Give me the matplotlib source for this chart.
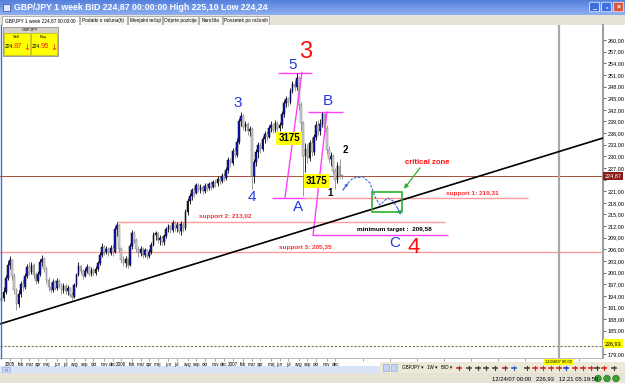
import matplotlib.pyplot as plt
import matplotlib.patches as mpatches
from matplotlib.colors import LinearSegmentedColormap
import numpy as np
import pandas as pd

plt.rcParams['font.family'] = ['Liberation Sans', 'DejaVu Sans']

# weekly GBP/JPY bid candles, first week Mon 6 Dec 2004, last week Mon 24 Dec 2007
week_start = '2004-12-06'
first_open = 192.8
closes = [193.5, 195.0, 198.5, 202.0, 203.2, 199.0, 195.5, 191.8, 194.6, 197.0,
          196.2, 199.2, 201.4, 200.2, 202.0, 199.4, 197.8, 199.6, 202.8, 203.6,
          201.0, 198.2, 196.4, 195.6, 197.6, 196.0, 197.8, 196.8, 195.4, 196.6,
          195.2, 196.0, 194.2, 193.8, 196.8, 199.4, 201.6, 200.4, 199.2, 200.4,
          201.4, 199.6, 200.6, 199.8, 200.8, 202.4, 204.6, 206.6, 205.4, 206.2,
          205.0, 206.4, 205.2, 211.2, 212.2, 206.0, 203.2, 202.4, 203.6, 202.0,
          206.8, 210.2, 208.4, 206.0, 205.0, 206.2, 204.6, 205.8, 204.4, 205.4,
          207.2, 209.6, 210.2, 208.4, 209.0, 207.8, 209.4, 211.2, 212.0, 211.0,
          212.8, 211.6, 212.4, 210.8, 212.6, 211.4, 215.6, 218.4, 219.8, 221.2,
          220.6, 222.6, 221.4, 222.2, 221.0, 222.4, 221.8, 222.8, 222.2, 223.4,
          223.0, 224.2, 223.6, 225.0, 224.4, 226.4, 229.0, 228.2, 231.4, 230.4,
          233.8, 239.0, 240.4, 237.6, 238.4, 236.4, 237.0, 224.8, 228.6, 231.0,
          233.0, 232.0, 234.4, 235.8, 235.0, 237.2, 238.2, 236.8, 238.6, 237.4,
          238.0, 240.8, 243.8, 244.8, 244.0, 246.8, 248.6, 247.8, 250.2, 243.2,
          238.6, 230.2, 231.8, 229.6, 233.4, 231.0, 235.0, 238.2, 236.6, 238.4,
          240.8, 237.4, 231.6, 229.4, 230.2, 226.2, 223.8, 227.6, 225.0, 224.87]
highs = [195.5, 196.2, 199.4, 203.0, 204.2, 203.6, 199.8, 196.0, 195.6, 197.8,
         198.4, 200.0, 202.2, 202.8, 202.8, 202.4, 200.2, 200.4, 203.6, 204.6,
         204.0, 201.6, 198.8, 197.6, 198.4, 198.2, 198.6, 198.4, 197.4, 197.2,
         197.2, 196.8, 196.4, 195.0, 197.4, 200.0, 202.8, 202.0, 201.0, 201.2,
         202.2, 201.8, 201.4, 201.2, 201.6, 203.0, 205.4, 207.6, 207.2, 206.8,
         206.6, 207.2, 207.0, 212.0, 213.1, 212.6, 206.6, 204.2, 204.2, 203.8,
         207.6, 211.0, 210.8, 209.0, 206.8, 206.8, 206.6, 206.4, 206.2, 206.0,
         207.8, 210.4, 210.8, 210.6, 209.6, 209.4, 210.0, 211.8, 212.6, 212.4,
         213.6, 213.4, 213.0, 212.8, 213.2, 213.0, 216.4, 219.2, 220.6, 221.8,
         222.0, 223.2, 223.0, 222.8, 222.6, 223.0, 223.2, 223.4, 223.6, 224.0,
         224.2, 224.8, 225.0, 225.6, 226.0, 227.2, 229.8, 229.6, 232.2, 232.4,
         234.6, 239.8, 241.3, 240.8, 239.2, 238.8, 237.8, 237.6, 229.4, 231.8,
         233.8, 233.6, 235.2, 236.6, 236.4, 238.0, 239.0, 238.6, 239.4, 239.2,
         238.8, 241.6, 244.6, 245.6, 245.4, 247.6, 249.4, 249.6, 251.4, 250.6,
         244.0, 239.2, 233.4, 233.2, 234.2, 234.6, 235.8, 239.0, 239.4, 239.6,
         241.5, 241.2, 238.0, 232.6, 231.0, 230.6, 227.0, 228.6, 229.2, 225.10]
lows = [191.8, 192.6, 194.6, 198.0, 200.8, 198.2, 194.6, 190.3, 191.2, 193.8,
        195.2, 195.8, 198.6, 199.4, 199.6, 198.6, 197.0, 197.2, 199.2, 201.8,
        200.2, 197.4, 195.2, 194.8, 195.0, 195.4, 195.6, 196.0, 194.6, 194.8,
        194.4, 194.2, 193.6, 193.0, 193.4, 196.2, 199.0, 199.6, 198.4, 198.8,
        199.8, 199.0, 199.2, 199.2, 199.4, 200.4, 202.0, 204.0, 204.6, 204.8,
        204.2, 204.6, 204.2, 205.0, 209.4, 205.2, 202.4, 201.6, 201.4, 201.2,
        201.6, 206.0, 207.6, 205.2, 204.0, 204.2, 203.8, 204.0, 203.6, 203.8,
        204.8, 206.8, 208.4, 207.6, 207.2, 207.0, 207.2, 208.8, 210.4, 210.2,
        210.6, 210.8, 210.6, 210.0, 209.8, 210.6, 211.0, 214.8, 217.6, 218.8,
        219.6, 220.2, 220.8, 220.6, 220.4, 220.6, 221.0, 221.2, 221.4, 221.8,
        222.2, 222.4, 222.8, 223.0, 223.6, 223.8, 225.8, 227.2, 227.8, 229.6,
        229.8, 233.2, 237.8, 236.8, 236.4, 235.6, 235.2, 221.5, 223.0, 227.4,
        229.6, 230.8, 231.4, 233.4, 234.0, 234.6, 236.2, 236.0, 236.2, 236.6,
        236.4, 237.4, 240.2, 242.8, 243.0, 243.6, 246.2, 246.8, 247.2, 242.0,
        236.4, 219.7, 226.0, 228.2, 228.8, 230.0, 230.4, 234.2, 235.6, 235.6,
        237.6, 236.2, 230.6, 228.4, 227.6, 225.4, 221.5, 223.0, 224.4, 224.24]

month_names = ['jan', 'feb', 'mar', 'apr', 'maj', 'jun', 'jul', 'avg', 'sep', 'okt', 'nov', 'dec']
price_ticks = np.arange(179, 261, 3)
hidden_ticks = [224, 182]      # covered by the price / crosshair boxes

last_price = 224.87
support1 = 219.31
support2 = 213.02
support3 = 205.35
min_target = 209.58
wave5_top = 251.6
waveB_top = 241.4
cross_price = 181.07
trend_start = 186.75
trend_end = 234.72

W, H = 625, 383
X0, X1 = -4.67, 277.1          # visible week range
Y0, Y1 = 177.97, 263.87        # visible price range

dates = pd.date_range(week_start, periods=len(closes), freq='W-MON')
x = np.arange(len(closes)) - 4   # week index, 0 = 3 Jan 2005
o = np.array([first_open] + closes[:-1])
c = np.array(closes)
h = np.array(highs)
l = np.array(lows)

fig = plt.figure(figsize=(6.25, 3.83), dpi=100, facecolor='white')


def fbox(x0, y0, x1, y1):
    return [x0 / W, 1 - y1 / H, (x1 - x0) / W, (y1 - y0) / H]


bg = fig.add_axes([0, 0, 1, 1], zorder=0)
ax = fig.add_axes(fbox(0, 25, 603, 358), zorder=1)
fg = fig.add_axes([0, 0, 1, 1], zorder=3)
fg.patch.set_alpha(0)

# ---- window chrome ----
grad = LinearSegmentedColormap.from_list('title', ['#5580dc', '#8eaef0'])
bg.imshow(np.linspace(0, 1, 20)[:, None], extent=[0, W, 15, 0], cmap=grad, aspect='auto')
bg.text(14, 7.5, 'GBP/JPY 1 week BID 224,87 00:00:00 High 225,10 Low 224,24',
        color='white', fontsize=6.3, fontweight='bold', va='center')
bg.add_patch(mpatches.Rectangle((3, 3.5), 7, 7, fc='#dfe8ff', ec='#3050a0', lw=0.5))
for bx, col, sym in [(590, '#3b6fe0', '_'), (602, '#3b6fe0', '▫'), (614, '#d9553a', '×')]:
    bg.add_patch(mpatches.FancyBboxPatch((bx, 2.5), 9, 9, boxstyle='round,pad=0.3',
                                         fc=col, ec='white', lw=0.5))
    bg.text(bx + 4.5, 7.5, sym, color='white', fontsize=5, ha='center', va='center',
            fontweight='bold')
bg.add_patch(mpatches.Rectangle((0, 15), W, 10, fc='#e6e2d5', ec='none'))
tabs = [(2, 79, 'GBPJPY 1 week 224,87 00:00:00'), (80, 127, 'Podatki o računu(h)'),
        (128, 162, 'Menjalni tečaji'), (163, 198, 'Odprte pozicije'),
        (199, 222, 'Naročila'), (223, 269, 'Povzetek po računih')]
for i, (a, b, t) in enumerate(tabs):
    bg.add_patch(mpatches.Rectangle((a, 15.5), b - a, 9.5, fc='white' if i == 0 else '#f7f6f1',
                                    ec='#9a9a9a', lw=0.5))
    bg.text((a + b) / 2, 20.3, t, fontsize=3.4, ha='center', va='center')

# bottom bars
bg.add_patch(mpatches.Rectangle((0, 366), 380, 7, fc='#d9e4f8', ec='none'))
bg.add_patch(mpatches.Rectangle((2, 366.5), 8, 6, fc='#c3d3f3', ec='#8aa2d8', lw=0.4))
bg.text(6, 369.5, '<', fontsize=4, ha='center', va='center', color='#3050a0')
bg.add_patch(mpatches.Rectangle((380, 362), 245, 11, fc='#ece9d8', ec='none'))
bg.add_patch(mpatches.Rectangle((383, 364), 6, 7, fc='#c3d3f3', ec='#8aa2d8', lw=0.4))
bg.add_patch(mpatches.Rectangle((391, 364), 6, 7, fc='#c3d3f3', ec='#8aa2d8', lw=0.4))
for tx, t in [(402, 'GBPJPY ▾'), (427, '1W ▾'), (441, 'BID ▾')]:
    bg.text(tx, 367.5, t, fontsize=3.3, va='center')
tool_cols = ['#d02020', '#404040', '#404040', '#404040', '#404040', '#a02060', '#3060c0',
             '#404040', '#e02020', '#e02020', '#e02020', '#e02020', '#2040c0', '#e02020',
             '#e02020', '#e02020', '#404040', '#e02020', '#404040']
tool_x = [459, 469, 478, 486, 495, 505, 514, 527, 535, 543, 551, 559, 566, 575, 583,
          591, 597, 604, 614]
for tx, col in zip(tool_x, tool_cols):
    bg.plot([tx - 2, tx + 2], [367.5, 367.5], color=col, lw=1.2)
    bg.plot([tx, tx], [365.5, 369.5], color=col, lw=0.8)
bg.add_patch(mpatches.Rectangle((0, 373), W, 10, fc='#e6e2d5', ec='none'))
bg.text(492, 378.5, '12/24/07 00:00   226,93   12.21 05:19:50', fontsize=4.2, va='center')
for gx in [598, 607, 616]:
    bg.add_patch(mpatches.Circle((gx, 378.5), 3.3, fc='#3aa030', ec='#1d6a18', lw=0.4))
bg.set_xlim(0, W)
bg.set_ylim(H, 0)
bg.axis('off')

# ---- candles ----
up = c >= o
ax.vlines(x[up], l[up], h[up], color='black', lw=0.6, zorder=3)
ax.vlines(x[~up], l[~up], h[~up], color='#8a8a8a', lw=0.6, zorder=3)
ax.bar(x[up], np.maximum(c - o, 0.25)[up], bottom=o[up], width=0.75,
       color='#1515c8', edgecolor='black', linewidth=0.35, zorder=4)
ax.bar(x[~up], np.maximum(o - c, 0.25)[~up], bottom=c[~up], width=0.75,
       color='#d0d0d0', edgecolor='#7a7a7a', linewidth=0.35, zorder=4)

# ---- horizontal levels / drawing objects ----
ax.axhline(last_price, color='#a8503c', lw=0.7, zorder=2)
ax.axhline(support3, color='#ff9a9a', lw=1.0, zorder=2)
ax.axhline(cross_price, color='#77774a', lw=0.8, ls=(0, (2, 1.5)), zorder=2)
ax.axvline(256.5, color='#a8a8a8', lw=1.6, zorder=2)
ax.hlines(support2, 50, 203.3, color='#ff9a9a', lw=1.0, zorder=2)
ax.hlines(support1, 137.9, 242, color='#ff9a9a', lw=1.0, zorder=2)
ax.hlines(support1, 122.4, 137.9, color='#ff40ff', lw=1.0, zorder=2)
ax.hlines(min_target, 141.6, 204.7, color='#ff40ff', lw=1.0, zorder=2)
ax.hlines(wave5_top, 125.2, 141.1, color='#ff40ff', lw=1.0, zorder=2)
ax.hlines(waveB_top, 139.3, 155.6, color='#ff40ff', lw=1.0, zorder=2)
ax.plot([136.4, 128.5], [wave5_top, support1], color='#ff40ff', lw=1.0, zorder=5)
ax.plot([148.1, 141.6], [waveB_top, min_target], color='#ff40ff', lw=1.0, zorder=5)
ax.plot([X0, X1], [trend_start, trend_end], color='black', lw=1.2, zorder=5)

# projected path and critical zone
wave_i = [155.6, 157.9, 160.3, 165.0, 168.2, 170.6, 172.9, 174.8, 176.6, 179.0, 180.8, 182.7]
wave_p = [221.3, 223.1, 224.4, 224.7, 223.1, 219.5, 217.4, 218.5, 219.2, 218.5, 216.9, 214.9]
ax.plot(wave_i[:-1], wave_p[:-1], color='#3a6ae0', lw=0.8, ls=(0, (2.5, 1.2)), zorder=6)
ax.annotate('', xy=(wave_i[-1], wave_p[-1]), xytext=(wave_i[-2], wave_p[-2]),
            arrowprops=dict(arrowstyle='-|>', color='#3a6ae0', lw=0.8,
                            mutation_scale=5, shrinkA=0, shrinkB=0), zorder=6)
ax.annotate('', xy=(157.9, 223.1), xytext=(155.6, 221.3),
            arrowprops=dict(arrowstyle='-|>', color='#3a6ae0', lw=0.8,
                            mutation_scale=4, shrinkA=0, shrinkB=0), zorder=6)
ax.add_patch(mpatches.Rectangle((169.2, 215.6), 14.0, 5.2, fill=False,
                                ec='#30b030', lw=1.2, zorder=6))
ax.annotate('', xy=(184.1, 221.6), xytext=(191.6, 227.0),
            arrowprops=dict(arrowstyle='-|>', color='#30b030', lw=0.9,
                            mutation_scale=6, shrinkA=0, shrinkB=0), zorder=6)

# ---- labels ----
ax.text(138.3, 256.9, '3', color='#ff1010', fontsize=17, ha='center', va='center', zorder=7)
ax.text(188.8, 206.6, '4', color='#ff1010', fontsize=16, ha='center', va='center', zorder=7)
for t, xi, pi in [('5', 132.2, 253.6), ('3', 106.5, 243.8), ('4', 113.1, 219.5),
                  ('A', 134.6, 216.9), ('B', 148.6, 244.3), ('C', 179.9, 207.6)]:
    ax.text(xi, pi, t, color='#2438e0', fontsize=11, ha='center', va='center', zorder=7)
ax.text(156.5, 231.6, '2', fontsize=7, fontweight='bold', ha='center', va='center', zorder=7)
ax.text(149.5, 220.5, '1', fontsize=7, fontweight='bold', ha='center', va='center', zorder=7)
for xi, pi in [(130.4, 234.6), (143.2, 223.6)]:
    ax.text(xi, pi, '3175', fontsize=7, fontweight='bold', ha='center', va='center', zorder=8,
            bbox=dict(boxstyle='square,pad=0.2', fc='#ffff00', ec='none'))
ax.text(194.9, 228.3, 'critical zone', color='#ff1010', fontsize=5.6, fontweight='bold',
        ha='center', va='center', zorder=7)
ax.text(215.9, 220.5, 'support 1: 219,31', color='#ff3030', fontsize=4.6, fontweight='bold',
        ha='center', va='center', zorder=7)
ax.text(100.5, 214.6, 'support 2: 213,02', color='#ff3030', fontsize=4.6, fontweight='bold',
        ha='center', va='center', zorder=7)
ax.text(137.9, 206.35, 'support 3: 205,35', color='#ff3030', fontsize=4.6, fontweight='bold',
        ha='center', va='center', zorder=7)
ax.text(179.4, 211.0, 'minimum target :  209,58', color='black', fontsize=4.6,
        fontweight='bold', ha='center', va='center', zorder=7)

# ---- axes ----
ax.set_xlim(X0, X1)
ax.set_ylim(Y0, Y1)
ax.set_facecolor('white')
for s in ['top', 'left']:
    ax.spines[s].set_visible(False)
ax.spines['right'].set_color('#a0a0a0')
ax.spines['right'].set_linewidth(1.5)
ax.spines['bottom'].set_color('#b0b0b0')
ax.spines['bottom'].set_linewidth(0.6)

ax.yaxis.tick_right()
ax.set_yticks(price_ticks)
ax.set_yticklabels(['' if v in hidden_ticks else f'{v:.2f}'.replace('.', ',')
                    for v in price_ticks])
ax.tick_params(axis='y', direction='out', length=2.5, width=0.6, labelsize=4.0, pad=0.6,
               colors='#505050', labelcolor='black')

new_month = np.r_[True, dates.month[1:] != dates.month[:-1]]
new_month[0] = False
mpos = x[new_month]
mlab = [str(d.year) if d.month == 1 else month_names[d.month - 1] for d in dates[new_month]]
ax.set_xticks(mpos)
ax.set_xticklabels(mlab)
ax.set_xticks(np.arange(165, X1, 12.6), minor=True)
ax.tick_params(axis='x', which='both', direction='out', length=2, width=0.5, labelsize=3.3,
               pad=0.8, colors='#808080', labelcolor='black')

ax.text(1.003, last_price, '224,87', transform=ax.get_yaxis_transform(), fontsize=4,
        color='white', va='center', ha='left', clip_on=False, zorder=9,
        bbox=dict(boxstyle='square,pad=0.3', fc='#8b1a1a', ec='none'))
ax.text(1.003, cross_price + 0.6, '226,93', transform=ax.get_yaxis_transform(), fontsize=4,
        color='black', va='center', ha='left', clip_on=False, zorder=9,
        bbox=dict(boxstyle='square,pad=0.3', fc='#ffff00', ec='none'))
ax.text(256.5, -0.005, '12/24/07 00:00', transform=ax.get_xaxis_transform(), fontsize=3,
        ha='center', va='top', clip_on=False, zorder=9,
        bbox=dict(boxstyle='square,pad=0.25', fc='#ffff00', ec='none'))

# ---- quick order widget ----
fg.plot([0.5, 0.5], [25, 358], color='#3a6fd8', lw=1.0)
fg.add_patch(mpatches.Rectangle((3, 27), 55, 29, fc='#d4d0c8', ec='#808080', lw=0.5))
fg.text(30.5, 30, 'GBPJPY', fontsize=3.0, ha='center', va='center')
for bx, lab, big in [(4, 'Sell', '87'), (31, 'Buy', '95')]:
    fg.add_patch(mpatches.Rectangle((bx, 33), 26, 22, fc='#ffff00', ec='#b0b000', lw=0.4))
    fg.text(bx + 12, 37, lab, fontsize=3.0, ha='center', va='center')
    fg.text(bx + 10, 46.5, '224.', fontsize=3.6, ha='right', va='center')
    fg.text(bx + 10, 46, big, fontsize=5.5, ha='left', va='center', color='#ff2020')
    fg.text(bx + 22.5, 47, '↓', fontsize=6, ha='center', va='center', color='#ff2020',
            family='DejaVu Sans')
fg.set_xlim(0, W)
fg.set_ylim(H, 0)
fg.axis('off')

fig.savefig('out.png', dpi=100, facecolor='white')
